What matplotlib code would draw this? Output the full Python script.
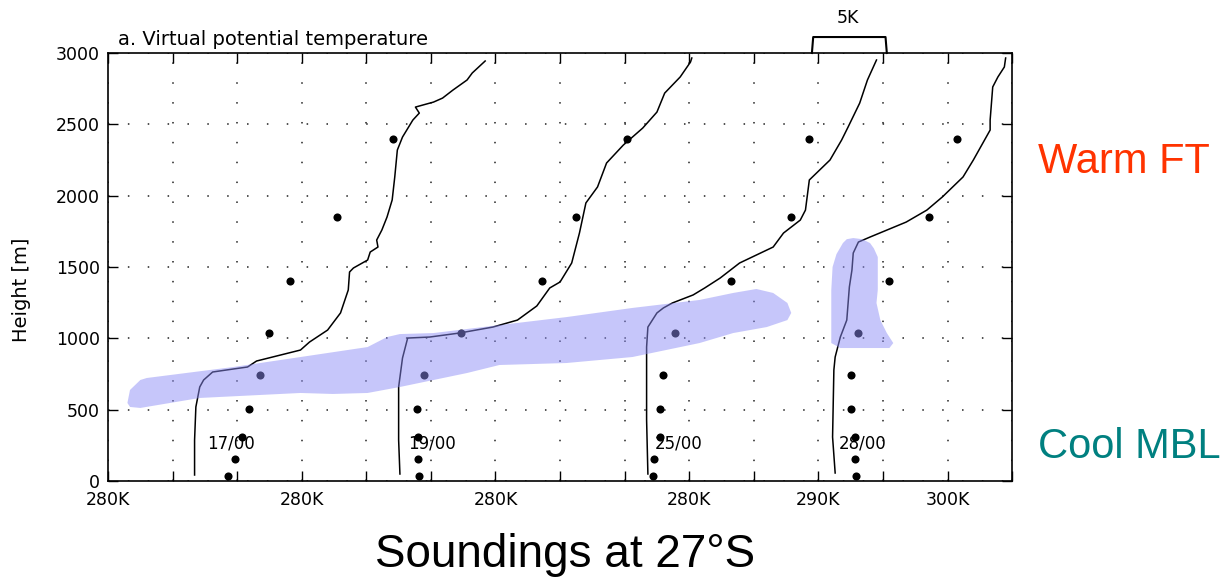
import matplotlib
matplotlib.use("Agg")
import matplotlib.pyplot as plt
from matplotlib.patches import Polygon
from matplotlib.ticker import FixedLocator, FixedFormatter

# ---- data (x: K offset on the stacked axis, y: height in m) ----
levels = [35, 155, 305, 505, 745, 1040, 1400, 1850, 2395]

s1_x = [6.7, 6.7, 6.8, 7.1, 7.4, 8.1, 9.7, 10.8, 11.5, 14.9, 15.6, 17.0, 18.0, 18.6, 18.7,
        19.0, 20.1, 20.3, 20.9, 20.8, 21.2, 21.6, 22.0, 22.2, 22.4, 22.8, 23.6, 24.1, 23.8,
        25.2, 25.9, 26.7, 27.8, 28.2, 29.2]
s1_y = [42, 287, 519, 659, 708, 764, 785, 799, 841, 918, 974, 1058, 1178, 1339, 1465,
        1493, 1549, 1605, 1640, 1689, 1759, 1850, 1970, 2131, 2320, 2411, 2530, 2579, 2621,
        2656, 2684, 2740, 2811, 2860, 2944]
s1_dots = [9.3, 9.8, 10.4, 10.9, 11.8, 12.5, 14.1, 17.7, 22.1]

s2_x = [22.6, 22.5, 22.5, 22.8, 23.2, 24.9, 27.2, 29.8, 31.7, 33.2, 34.2, 35.0, 35.9, 36.5,
        37.0, 37.9, 38.6, 39.9, 41.4, 42.5, 43.1, 44.3, 45.1, 45.2]
s2_y = [49, 287, 659, 862, 1002, 1009, 1037, 1079, 1128, 1227, 1353, 1395, 1528, 1738,
        1949, 2061, 2229, 2355, 2474, 2586, 2719, 2832, 2937, 2965]
s2_dots = [24.1, 24.0, 24.0, 23.9, 24.5, 27.3, 33.6, 36.2, 40.2]

s3_x = [41.8, 41.7, 41.7, 41.7, 41.8, 42.5, 43.0, 43.7, 45.3, 46.2, 47.4, 48.9, 50.2, 51.5,
        52.3, 53.6, 54.0, 54.3, 55.9, 56.8, 57.3, 58.2, 58.8, 59.5]
s3_y = [49, 428, 778, 939, 1079, 1178, 1213, 1248, 1304, 1353, 1423, 1528, 1584, 1640,
        1738, 1829, 1899, 2110, 2250, 2390, 2481, 2649, 2811, 2951]
s3_dots = [42.2, 42.3, 42.7, 42.7, 43.0, 43.9, 48.2, 52.9, 54.3]

s4_x = [56.3, 56.1, 56.2, 56.3, 56.5, 56.7, 57.2, 57.4, 57.6, 57.7, 58.1, 59.0, 61.8, 63.4,
        64.6, 66.2, 67.0, 68.3, 68.3, 68.5, 68.9, 69.4, 69.5]
s4_y = [56, 308, 778, 869, 939, 1009, 1128, 1360, 1479, 1598, 1675, 1710, 1815, 1899,
        1991, 2131, 2250, 2460, 2530, 2762, 2832, 2902, 2965]
s4_dots = [57.9, 57.8, 57.8, 57.5, 57.5, 58.1, 60.5, 63.6, 65.7]

sounding_labels = ["17/00", "19/00", "25/00", "28/00"]
label_x = [7.7, 23.2, 42.3, 56.6]
label_y = 266

band_x = [1.5, 1.7, 2.5, 3.0, 9.7, 14.9, 20.1, 21.6, 22.6, 25.2, 30.3, 35.5, 40.6, 45.8,
          48.4, 50.2, 51.5, 52.6, 52.9, 52.6, 51.0, 48.4, 45.8, 40.6, 35.5, 30.3, 27.8,
          22.6, 20.1, 17.4, 14.9, 7.1, 2.5, 1.7]
band_y = [547, 638, 708, 722, 799, 869, 939, 1009, 1030, 1037, 1093, 1149, 1213, 1269,
          1318, 1346, 1318, 1248, 1178, 1128, 1079, 1037, 967, 869, 827, 813, 757,
          659, 617, 610, 617, 582, 512, 519]
blob_x = [56.0, 56.7, 60.5, 60.8, 60.3, 59.8, 59.5, 59.6, 59.6, 59.3, 59.0, 58.4, 57.7,
          57.2, 56.9, 56.4, 56.1, 56.0]
blob_y = [967, 932, 932, 967, 1037, 1128, 1248, 1339, 1570, 1630, 1668, 1695, 1703,
          1695, 1668, 1590, 1500, 1339]

xtick_pos = list(range(0, 75, 5))
xtick_labels = ["280K", "", "", "280K", "", "", "280K", "", "", "280K", "", "290K", "", "300K", ""]
ytick_pos = [0, 500, 1000, 1500, 2000, 2500, 3000]

# ---- figure ----
plt.rcParams['font.family'] = ['DejaVu Sans']
fig = plt.figure(figsize=(12.25, 5.8), dpi=100)
ax = fig.add_axes([0.0882, 0.1707, 0.7380, 0.7379])
ax.set_xlim(0, 70)
ax.set_ylim(0, 3000)

ax.xaxis.set_major_locator(FixedLocator(xtick_pos))
ax.xaxis.set_major_formatter(FixedFormatter(xtick_labels))
ax.set_yticks(ytick_pos)
ax.tick_params(direction='in', length=7, width=1.0, top=True, right=True,
               labelsize=12.5, colors='black')
ax.tick_params(axis='x', pad=7)
ax.tick_params(axis='y', pad=6)
ax.grid(True, color='#222222', linestyle=(0, (1, 12)), linewidth=1.1)
for sp in ax.spines.values():
    sp.set_linewidth(1.2)

for xs, ys in [(s1_x, s1_y), (s2_x, s2_y), (s3_x, s3_y), (s4_x, s4_y)]:
    ax.plot(xs, ys, color='black', lw=1.1, zorder=3)
for dx in [s1_dots, s2_dots, s3_dots, s4_dots]:
    ax.scatter(dx, levels, s=34, color='black', zorder=4, linewidths=0)

for lab, lx in zip(sounding_labels, label_x):
    ax.text(lx, label_y, lab, fontsize=12, ha='left', va='center', zorder=5)

shade = (140 / 255, 140 / 255, 245 / 255)
ax.add_patch(Polygon(list(zip(band_x, band_y)), closed=True, facecolor=shade,
                     edgecolor='none', alpha=0.49, zorder=6, joinstyle='round'))
ax.add_patch(Polygon(list(zip(blob_x, blob_y)), closed=True, facecolor=shade,
                     edgecolor='none', alpha=0.49, zorder=6, joinstyle='round'))

# 5K scale bracket
ax.plot([54.5, 54.6, 60.2, 60.3], [3000, 3112, 3112, 3000], color='black', lw=1.5,
        clip_on=False, zorder=7)
ax.text(57.3, 3245, "5K", fontsize=12.5, ha='center', va='center')

ax.text(0.011, 1.019, "a. Virtual potential temperature", transform=ax.transAxes,
        fontsize=14, ha='left', va='baseline')
fig.text(22 / 1225, 0.5, "Height [m]", rotation=90, fontsize=14, ha='center', va='center')

fig.text(565 / 1225, 0.0224, "Soundings at 27°S", family='Liberation Sans', fontsize=33,
         ha='center', va='baseline')
fig.text(1038 / 1225, 0.7017, "Warm FT", family='Liberation Sans', fontsize=30,
         color='#ff3300', ha='left', va='baseline')
fig.text(1038 / 1225, 0.2103, "Cool MBL", family='Liberation Sans', fontsize=30,
         color='#008080', ha='left', va='baseline')

fig.savefig("out.png", dpi=100)
